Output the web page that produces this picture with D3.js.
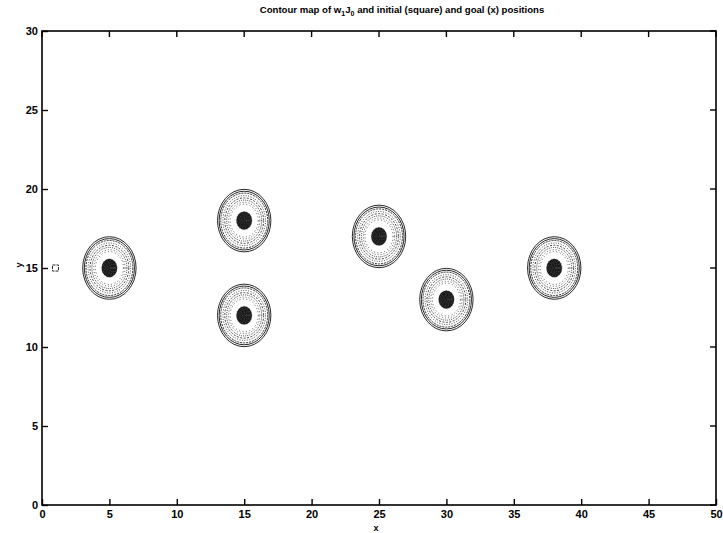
<!DOCTYPE html>
<html>
<head>
<meta charset="utf-8">
<script src="https://cdn.jsdelivr.net/npm/d3@7"></script>
<style>
  html, body { margin: 0; padding: 0; background: #fff; }
  svg { display: block; }
  text { font-family: "Liberation Sans", Arial, Helvetica, sans-serif; fill: #000; }
</style>
</head>
<body>
<svg id="chart" width="723" height="533"></svg>
<script>
// Obstacle centres of the w1*J0 cost field
const centerX = [5, 15, 15, 25, 30, 38];
const centerY = [15, 18, 12, 17, 13, 15];

// Contour level radii around each centre (data units) and their line style
const ringRadius = [1.98, 1.86, 1.74, 1.58, 1.44, 1.30, 1.16, 1.04];
const ringDash   = ["none", "none", "2,1", "1,1.5", "2,1.5", "1,1", "1,2", "1,2.5"];
const ringWidth  = [0.9, 0.9, 0.9, 0.8, 0.8, 0.8, 0.7, 0.7];

// Tightly packed levels at the peak of each obstacle
const coreRadius = [0.58, 0.48, 0.38, 0.28, 0.18, 0.09];

// Initial position (square)
const startX = [1];
const startY = [15];

const xTicks = [0, 5, 10, 15, 20, 25, 30, 35, 40, 45, 50];
const yTicks = [0, 5, 10, 15, 20, 25, 30];

const svg = d3.select("#chart");
const margin = { left: 42, right: 7, top: 31, bottom: 28 };
const W = 723, H = 533;

const x = d3.scaleLinear().domain([0, 50]).range([margin.left, W - margin.right]);
const y = d3.scaleLinear().domain([0, 30]).range([H - margin.bottom, margin.top]);

const plot = svg.append("g");

// contour rings
const centers = centerX.map((cx, i) => ({ cx, cy: centerY[i] }));
const rings = [];
centers.forEach(c => ringRadius.forEach((r, j) => rings.push({ ...c, r, dash: ringDash[j], w: ringWidth[j] })));

plot.selectAll("ellipse.ring").data(rings).join("ellipse")
  .attr("class", "ring")
  .attr("cx", d => x(d.cx)).attr("cy", d => y(d.cy))
  .attr("rx", d => x(d.cx + d.r) - x(d.cx))
  .attr("ry", d => y(d.cy) - y(d.cy + d.r))
  .attr("fill", "none")
  .attr("stroke", "#111")
  .attr("stroke-width", d => d.w)
  .attr("stroke-dasharray", d => d.dash);

// dark cores
const cores = [];
centers.forEach(c => coreRadius.forEach(r => cores.push({ ...c, r })));
plot.selectAll("ellipse.core-fill").data(centers).join("ellipse")
  .attr("class", "core-fill")
  .attr("cx", d => x(d.cx)).attr("cy", d => y(d.cy))
  .attr("rx", d => x(d.cx + coreRadius[0]) - x(d.cx))
  .attr("ry", d => y(d.cy) - y(d.cy + coreRadius[0]))
  .attr("fill", "#1a1a1a");
plot.selectAll("ellipse.core").data(cores).join("ellipse")
  .attr("class", "core")
  .attr("cx", d => x(d.cx)).attr("cy", d => y(d.cy))
  .attr("rx", d => x(d.cx + d.r) - x(d.cx))
  .attr("ry", d => y(d.cy) - y(d.cy + d.r))
  .attr("fill", "none")
  .attr("stroke", "#666")
  .attr("stroke-width", 0.6)
  .attr("stroke-dasharray", "1,2");

// initial position marker
plot.selectAll("rect.start").data(startX.map((sx, i) => ({ sx, sy: startY[i] }))).join("rect")
  .attr("class", "start")
  .attr("x", d => x(d.sx) - 3).attr("y", d => y(d.sy) - 3)
  .attr("width", 6).attr("height", 6)
  .attr("fill", "none").attr("stroke", "#222").attr("stroke-width", 1)
  .attr("stroke-dasharray", "3,1");

// axes (MATLAB style: inward ticks, boxed)
const tickLen = 6;
const xAxis = svg.append("g").attr("transform", `translate(0,${y(0)})`)
  .call(d3.axisBottom(x).tickValues(xTicks).tickSize(-tickLen).tickPadding(4).tickFormat(d3.format("d")));
const yAxis = svg.append("g").attr("transform", `translate(${x(0)},0)`)
  .call(d3.axisLeft(y).tickValues(yTicks).tickSize(-tickLen).tickPadding(4).tickFormat(d3.format("d")));
[xAxis, yAxis].forEach(a => {
  a.select(".domain").remove();
  a.selectAll(".tick line").attr("stroke", "#000").attr("stroke-width", 1.4);
  a.selectAll(".tick text").attr("font-size", 11).attr("font-weight", "bold").attr("fill", "#000")
    .style("font-family", "'Liberation Sans', Arial, sans-serif");
});
xAxis.selectAll(".tick text").attr("dy", "0.85em");

// right-side ticks
svg.append("g").selectAll("line").data(yTicks).join("line")
  .attr("x1", x(50)).attr("x2", x(50) - tickLen)
  .attr("y1", d => y(d)).attr("y2", d => y(d))
  .attr("stroke", "#000").attr("stroke-width", 1.4);
svg.append("g").selectAll("line").data(xTicks).join("line")
  .attr("x1", d => x(d)).attr("x2", d => x(d))
  .attr("y1", y(30)).attr("y2", y(30) + tickLen)
  .attr("stroke", "#000").attr("stroke-width", 1.4);

// frame
svg.append("rect")
  .attr("x", x(0)).attr("y", y(30))
  .attr("width", x(50) - x(0)).attr("height", y(0) - y(30))
  .attr("fill", "none").attr("stroke", "#000").attr("stroke-width", 1.6);

// labels
svg.append("text").attr("x", 376).attr("y", 531).attr("text-anchor", "middle")
  .attr("font-size", 9).attr("font-weight", "bold").text("x");
svg.append("text").attr("transform", `translate(22,${y(15) - 3}) rotate(-90)`).attr("text-anchor", "middle")
  .attr("font-size", 9).attr("font-weight", "bold").text("y");

const title = svg.append("text").attr("x", 402).attr("y", 13).attr("text-anchor", "middle")
  .attr("font-size", 9.6).attr("font-weight", "bold");
title.append("tspan").text("Contour map of w");
title.append("tspan").attr("dy", 3).attr("font-size", 7).text("1");
title.append("tspan").attr("dy", -3).text("J");
title.append("tspan").attr("dy", 3).attr("font-size", 7).text("0");
title.append("tspan").attr("dy", -3).text(" and initial (square) and goal (x) positions");
</script>
</body>
</html>
